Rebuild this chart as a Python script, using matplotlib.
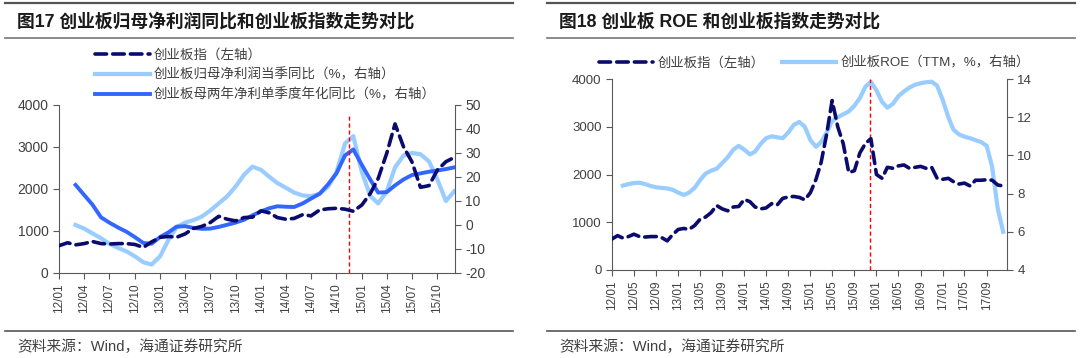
import matplotlib
matplotlib.use('Agg')
import matplotlib.pyplot as plt
import matplotlib.dates as mdates
from matplotlib.lines import Line2D
import numpy as np
import pandas as pd

plt.rcParams['font.family'] = ['Liberation Sans', 'Noto Sans CJK SC', 'DejaVu Sans']
plt.rcParams['axes.unicode_minus'] = False

# ---- data ----
# ChiNext index, month end, 2012/01 - 2017/12
index_dates = pd.date_range('2012-01-01', periods=72, freq='MS')
index_vals = [650, 720, 670, 700, 750, 700, 690, 700, 700, 680, 610, 740,
              850, 870, 850, 930, 1060, 1110, 1200, 1350, 1280, 1240, 1320, 1330,
              1480, 1430, 1320, 1280, 1300, 1390, 1360, 1500, 1530, 1540, 1520, 1470,
              1620, 1900, 2250, 2850, 3550, 3000, 2650, 2040, 2080, 2450, 2650, 2750,
              2000, 1920, 2150, 2130, 2180, 2200, 2130, 2150, 2170, 2130, 2150, 1920,
              1900, 1920, 1850, 1800, 1820, 1760, 1880, 1880, 1890, 1880, 1780, 1760]

# fig 17: profit growth, from 2012/03
profit_dates = pd.date_range('2012-03-01', periods=46, freq='MS')
profit_yoy = [0, -1.5, -3.5, -5.5, -7.8, -9.5, -11, -13, -15.5, -16.5,
              -13, -6, -1, 1, 2, 3.5, 6, 9, 12, 16, 21, 24.3,
              23, 20, 17.5, 15.5, 13.5, 12.3, 12, 13, 16, 22, 34, 37,
              22, 12, 9, 14, 24, 29, 30, 29.5, 26.5, 19, 10, 14]
profit_2y = [16.7, 12.5, 8.5, 3.2, 1, -1, -2.8, -5, -7.5, -7.8,
             -5, -3, -0.7, -0.5, -1.2, -1.6, -1.5, -0.8, 0.1, 1, 2.2, 4,
             5.7, 7, 7.8, 7.6, 7.5, 9, 11, 13, 17, 21.5, 29, 31.5,
             25, 18.8, 13.5, 13.7, 16.5, 19, 20.8, 21.5, 22.2, 22.7, 23.3, 24]

# fig 18: ROE TTM, from 2012/03
roe_dates = pd.date_range('2012-03-01', periods=70, freq='MS')
roe_vals = [8.42, 8.5, 8.55, 8.57, 8.5, 8.4, 8.33, 8.3, 8.27, 8.2,
            8.05, 7.93, 8.05, 8.3, 8.7, 9.05, 9.2, 9.3, 9.6, 9.9, 10.3, 10.5,
            10.3, 10.05, 10.2, 10.6, 10.9, 11.0, 10.95, 10.9, 11.2, 11.6, 11.75, 11.5,
            10.8, 10.45, 10.7, 11.2, 11.8, 12.0, 12.15, 12.3, 12.6, 13.0, 13.6, 13.85,
            13.4, 12.8, 12.5, 12.7, 13.1, 13.35, 13.55, 13.7, 13.78, 13.83, 13.86, 13.65,
            12.9, 12.0, 11.35, 11.1, 10.98, 10.9, 10.8, 10.7, 10.5, 9.4, 7.2, 6.0]

marker17 = pd.Timestamp('2014-11-15')
marker18 = pd.Timestamp('2015-11-25')

NAVY = '#0B0B6E'
LIGHT = '#99CCFF'
BLUE = '#3366FF'
GRAY = '#595959'
TXT = '#404040'


def style_axes(ax, ax2, fs):
    for a in (ax, ax2):
        a.spines['top'].set_visible(False)
        for s in ('left', 'right', 'bottom'):
            a.spines[s].set_color(GRAY)
        a.tick_params(colors=GRAY, labelcolor=TXT, direction='out', length=4)
    ax.spines['right'].set_visible(False)
    ax2.spines['left'].set_visible(False)
    ax2.spines['bottom'].set_visible(False)
    ax.tick_params(axis='y', labelsize=fs)
    ax2.tick_params(axis='y', labelsize=fs)
    ax.tick_params(axis='x', labelsize=8.5, rotation=90)
    ax.xaxis.set_major_formatter(mdates.DateFormatter('%y/%m'))


dash_kw = dict(color=NAVY, lw=2.6, dashes=(3.2, 1.7), dash_capstyle='round')

fig = plt.figure(figsize=(10.8, 3.58), dpi=100)

# ---- figure 17 ----
ax = fig.add_axes([59 / 1080, 1 - 273 / 358, 396 / 1080, 168 / 358])
ax2 = ax.twinx()
l1, = ax.plot(index_dates[:48], index_vals[:48], label='创业板指（左轴）', zorder=3, **dash_kw)
l2, = ax2.plot(profit_dates, profit_yoy, color=LIGHT, lw=3, label='创业板归母净利润当季同比（%，右轴）')
l3, = ax2.plot(profit_dates, profit_2y, color=BLUE, lw=2.8, label='创业板母两年净利单季度年化同比（%，右轴）')
ax.set_zorder(ax2.get_zorder() + 1)
ax.patch.set_visible(False)
ax2.axvline(marker17, ymin=0, ymax=0.94, color='red', lw=1, ls=(0, (3, 2)))
ax.set_ylim(0, 4000)
ax.set_yticks([0, 1000, 2000, 3000, 4000])
ax2.set_ylim(-20, 50)
ax2.set_yticks(range(-20, 51, 10))
ax.set_xlim(pd.Timestamp('2012-01-01'), pd.Timestamp('2015-12-04'))
ax.set_xticks(pd.date_range('2012-01-01', '2015-10-01', freq='3MS'))
style_axes(ax, ax2, 10)
fig.legend(handles=[l1, l2, l3], loc='upper left', bbox_to_anchor=(88 / 1080, 1 - 42 / 358),
           frameon=False, fontsize=9.7, handlelength=4.1, handletextpad=0.3,
           labelspacing=0.5, borderpad=0, labelcolor=TXT)

# ---- figure 18 ----
bx = fig.add_axes([612 / 1080, 1 - 270 / 358, 395 / 1080, 191 / 358])
bx2 = bx.twinx()
m1, = bx.plot(index_dates, index_vals, label='创业板指（左轴）', zorder=3, **dash_kw)
m2, = bx2.plot(roe_dates, roe_vals, color=LIGHT, lw=3, label='创业板ROE（TTM，%，右轴）')
bx.set_zorder(bx2.get_zorder() + 1)
bx.patch.set_visible(False)
bx2.axvline(marker18, ymin=0, ymax=1, color='red', lw=1, ls=(0, (3, 2)))
bx.set_ylim(0, 4000)
bx.set_yticks([0, 1000, 2000, 3000, 4000])
bx2.set_ylim(4, 14)
bx2.set_yticks(range(4, 15, 2))
bx.set_xlim(pd.Timestamp('2012-01-01'), pd.Timestamp('2017-12-22'))
bx.set_xticks(pd.date_range('2012-01-01', '2017-09-01', freq='4MS'))
style_axes(bx, bx2, 9.5)
fig.legend(handles=[m1, m2], loc='upper left', bbox_to_anchor=(592 / 1080, 1 - 50 / 358),
           ncol=2, frameon=False, fontsize=9.6, handlelength=4.1, handletextpad=0.3,
           columnspacing=1.3, borderpad=0, labelcolor=TXT)

# ---- titles, rules, sources ----
for x0, x1, title in [(5, 513, '图17 创业板归母净利润同比和创业板指数走势对比'),
                      (547, 1075, '图18 创业板 ROE 和创业板指数走势对比')]:
    fig.add_artist(Line2D([x0 / 1080, x1 / 1080], [1 - 3 / 358] * 2, color='#555555', lw=1.6))
    fig.add_artist(Line2D([x0 / 1080, x1 / 1080], [1 - 38 / 358] * 2, color='#777777', lw=1.2))
    fig.add_artist(Line2D([x0 / 1080, x1 / 1080], [1 - 331 / 358] * 2, color='#555555', lw=1.2))
    fig.text((x0 + 12) / 1080, 1 - 22 / 358, title, fontsize=12.8, fontweight='bold',
             color='#1a1a1a', va='center')
    fig.text((x0 + 12) / 1080, 1 - 347 / 358, '资料来源：Wind，海通证券研究所', fontsize=10.6,
             color=TXT, va='center')

fig.savefig('out.png', dpi=100)
